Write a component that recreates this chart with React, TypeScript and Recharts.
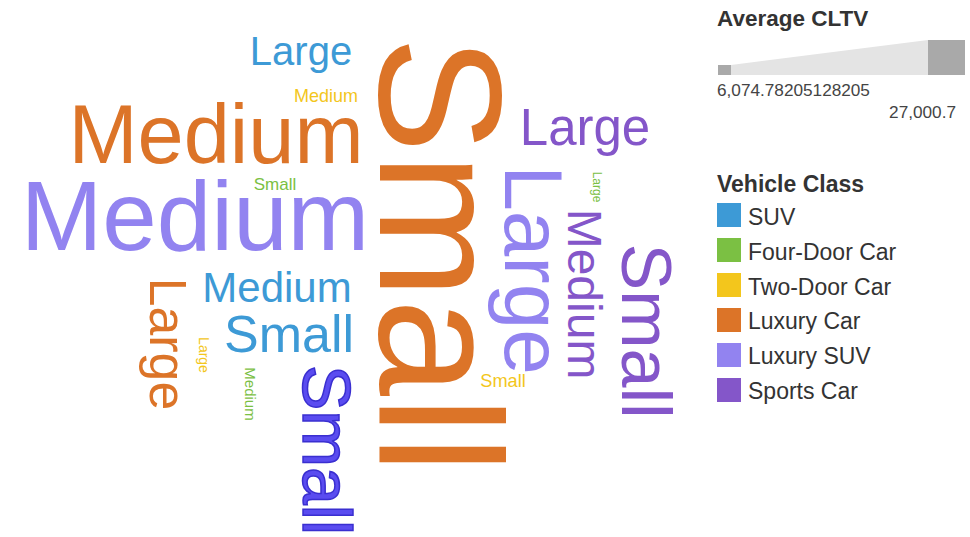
// Word cloud: vehicle size by vehicle class, word size = average CLTV
import React from 'react';
import { ScatterChart, Scatter, XAxis, YAxis } from 'recharts';

const vehicleClasses = ['SUV', 'Four-Door Car', 'Two-Door Car', 'Luxury Car', 'Luxury SUV', 'Sports Car'];
const vehicleSizes = ['Large', 'Medium', 'Small'];

// average CLTV per class, one array per vehicle size (same order as vehicleClasses)
const cltvLarge = [9670, 6074.78205128205, 6331, 11185, 15061, 11082];
const cltvMedium = [9926, 6460, 6845, 15190, 17115, 10697];
const cltvSmall = [11210, 6717, 6870, 27000.7, 13264, 13521];

// cloud placement (word centre in px, rotated = vertical word)
const cloudX = [
  [301, 277, 289],
  [597, 250, 275],
  [204, 326, 503],
  [169, 216, 443],
  [534, 195, 327],
  [585, 585, 647],
];
const cloudY = [
  [51, 287, 333],
  [187, 394, 184],
  [355, 96, 380],
  [344, 133, 255],
  [270, 215, 450],
  [127, 294, 331],
];
const cloudRotated = [
  [false, false, false],
  [true, true, false],
  [true, false, false],
  [true, false, true],
  [true, false, true],
  [false, true, true],
];

const classColors = ['#3d9ad6', '#7bc043', '#f3c61c', '#dc7428', '#9283f0', '#8456c9'];
const FONT = '"Liberation Sans", Arial, sans-serif';

const allValues = [...cltvLarge, ...cltvMedium, ...cltvSmall];
const minCltv = Math.min(...allValues);
const maxCltv = Math.max(...allValues);
const MIN_FONT = 12;
const MAX_FONT = 175;
const fontFor = (v: number) => MIN_FONT + ((v - minCltv) / (maxCltv - minCltv)) * (MAX_FONT - MIN_FONT);

const fmt = new Intl.NumberFormat('en-US', { maximumFractionDigits: 11 });

const seriesData = vehicleClasses.map((cls, ci) =>
  vehicleSizes.map((size, si) => ({
    size,
    cls,
    x: cloudX[ci][si],
    y: cloudY[ci][si],
    rotated: cloudRotated[ci][si],
    cltv: [cltvLarge, cltvMedium, cltvSmall][si][ci],
    highlight: cls === 'Luxury SUV' && size === 'Small',
  }))
);

function WordShape(props: any) {
  const { cx, cy, payload, fill } = props;
  if (cx == null || cy == null) return null;
  const fs = fontFor(payload.cltv);
  const color = payload.highlight ? '#5a4cf0' : fill;
  return (
    <text
      x={cx}
      y={cy + fs * 0.358}
      textAnchor="middle"
      fontFamily={FONT}
      fontSize={fs}
      fill={color}
      stroke={payload.highlight ? '#3a2fd0' : 'none'}
      strokeWidth={payload.highlight ? 1.5 : 0}
      transform={payload.rotated ? `rotate(90, ${cx}, ${cy})` : undefined}
    >
      {payload.size}
    </text>
  );
}

function SideLegend() {
  return (
    <svg width={270} height={420} style={{ position: 'absolute', left: 700, top: 0 }}>
      <text x={17} y={26} fontFamily={FONT} fontSize={22.5} fontWeight="bold" fill="#333">Average CLTV</text>
      <polygon points="31,65 228,40 228,75 31,75" fill="#e4e4e4" />
      <rect x={18} y={65} width={13} height={10} fill="#a9a9a9" />
      <rect x={228} y={40} width={37} height={35} fill="#a9a9a9" />
      <text x={17} y={96} fontFamily={FONT} fontSize={17.2} fill="#444">{fmt.format(minCltv)}</text>
      <text x={256} y={118} textAnchor="end" fontFamily={FONT} fontSize={17.2} fill="#444">{fmt.format(maxCltv)}</text>

      <text x={17} y={192} fontFamily={FONT} fontSize={23} fontWeight="bold" fill="#333">Vehicle Class</text>
      {vehicleClasses.map((cls, i) => (
        <g key={cls}>
          <rect x={17} y={203 + i * 35} width={24} height={24} fill={classColors[i]} />
          <text x={48} y={225 + i * 34.8} fontFamily={FONT} fontSize={23} fill="#333">{cls}</text>
        </g>
      ))}
    </svg>
  );
}

export default function App() {
  return (
    <div style={{ position: 'absolute', left: 0, top: 0, width: 970, height: 537, background: '#fff' }}>
      <ScatterChart width={700} height={537} margin={{ top: 0, right: 0, bottom: 0, left: 0 }}>
        <XAxis type="number" dataKey="x" domain={[0, 700]} hide />
        <YAxis type="number" dataKey="y" domain={[0, 537]} reversed hide />
        {seriesData.map((data, i) => (
          <Scatter
            key={vehicleClasses[i]}
            name={vehicleClasses[i]}
            data={data}
            fill={classColors[i]}
            shape={<WordShape />}
            isAnimationActive={false}
          />
        ))}
      </ScatterChart>
      <SideLegend />
    </div>
  );
}
